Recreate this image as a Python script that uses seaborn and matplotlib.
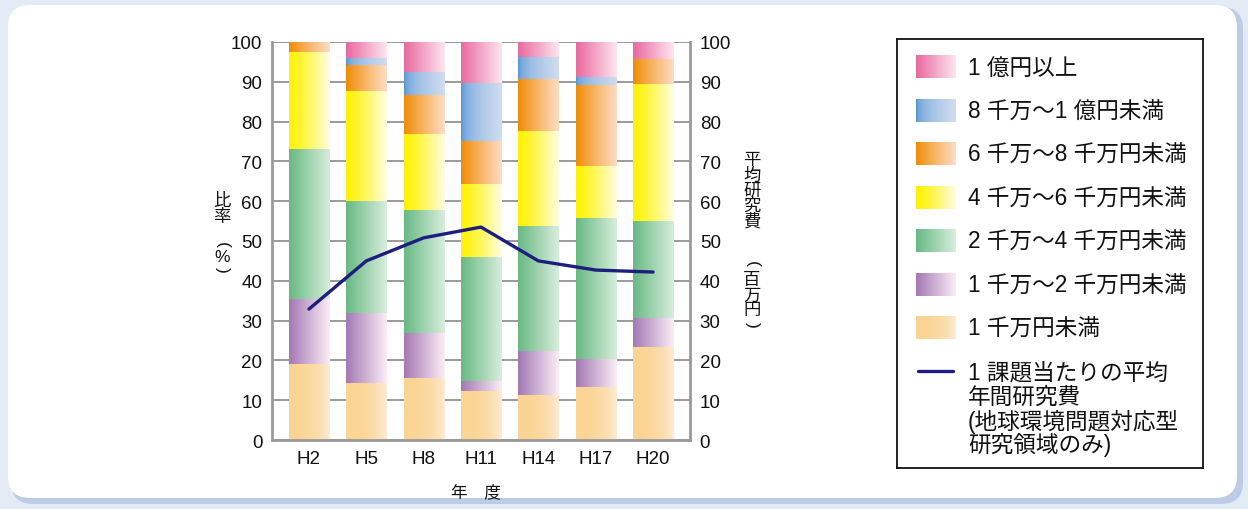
import numpy as np
import matplotlib
matplotlib.use("Agg")
import matplotlib.pyplot as plt
from matplotlib.patches import FancyBboxPatch
from matplotlib.transforms import IdentityTransform
from matplotlib.colors import to_rgb
import seaborn as sns

# ---- data -------------------------------------------------------------
years = ["H2", "H5", "H8", "H11", "H14", "H17", "H20"]

# share of projects by annual research cost band (%), bottom to top
share_under_10m = [19.0, 14.3, 15.6, 12.3, 11.3, 13.3, 23.4]
share_10m_20m   = [16.5, 17.6, 11.3,  2.5, 11.1,  7.1,  7.3]
share_20m_40m   = [37.6, 28.2, 30.9, 31.2, 31.4, 35.4, 24.3]
share_40m_60m   = [24.5, 27.6, 19.1, 18.3, 23.8, 13.0, 34.4]
share_60m_80m   = [ 2.4,  6.6,  9.8, 10.8, 13.1, 20.4,  6.3]
share_80m_100m  = [ 0.0,  1.7,  5.8, 14.6,  5.5,  2.0,  0.0]
share_over_100m = [ 0.0,  4.0,  7.5, 10.3,  3.8,  8.8,  4.3]

# average annual research cost per project (million yen)
avg_cost = [32.9, 45.0, 50.8, 53.5, 45.0, 42.7, 42.2]

band_labels = [
    "1 千万円未満",
    "1 千万～2 千万円未満",
    "2 千万～4 千万円未満",
    "4 千万～6 千万円未満",
    "6 千万～8 千万円未満",
    "8 千万～1 億円未満",
    "1 億円以上",
]
line_label = ["1 課題当たりの平均", "年間研究費", "(地球環境問題対応型", "研究領域のみ)"]

# ---- styling ----------------------------------------------------------
bands = [share_under_10m, share_10m_20m, share_20m_40m, share_40m_60m,
         share_60m_80m, share_80m_100m, share_over_100m]
# (left colour, right colour, fade exponent) for the horizontal gradients
band_grad = [
    ("#fad493", "#fdebd5", 2.5),
    ("#a478b4", "#fbedf6", 1.0),
    ("#68b983", "#d8eedd", 1.0),
    ("#fff200", "#fffde6", 1.2),
    ("#f08a00", "#fdddc6", 0.9),
    ("#4a8fd1", "#d0dcf0", 0.45),
    ("#e8699f", "#fde6f0", 1.0),
]
line_color = "#1e1e7e"
grid_color = "#9a9a9a"
text_color = "#111111"

sns.set_theme(style="white")
plt.rcParams["font.family"] = ["Liberation Sans", "Noto Sans CJK JP"]

W, H = 1248, 510


def fx(px):
    return px / W


def fy(py):
    return 1 - py / H


def gradient(c0, c1, gamma, n=128):
    t = np.linspace(0, 1, n) ** gamma
    a, b = np.array(to_rgb(c0)), np.array(to_rgb(c1))
    return (a[None, :] * (1 - t[:, None]) + b[None, :] * t[:, None])[None, :, :]


fig = plt.figure(figsize=(W / 100, H / 100), dpi=100)
fig.patch.set_facecolor("#e3ebf4")

# rounded white panel with a soft blue rim at the lower right
fig.add_artist(FancyBboxPatch((11, H - 505), 1232, 497,
                              boxstyle="round,pad=0,rounding_size=22",
                              transform=IdentityTransform(),
                              facecolor="#bccbe6", edgecolor="none", zorder=-3))
fig.add_artist(FancyBboxPatch((8, H - 499), 1229, 493,
                              boxstyle="round,pad=0,rounding_size=22",
                              transform=IdentityTransform(),
                              facecolor="white", edgecolor="none", zorder=-2))

ax = fig.add_axes([fx(272), fy(441), fx(690 - 272), (441 - 43) / H])
ax.patch.set_alpha(0)
ax.set_axisbelow(True)

n = len(years)
bottom = np.zeros(n)
for vals, (c0, c1, g) in zip(bands, band_grad):
    start = len(ax.patches)
    sns.barplot(x=years, y=vals, bottom=bottom, order=years, ax=ax,
                width=0.7, color=c0, saturation=1, errorbar=None)
    img = gradient(c0, c1, g)
    for p in ax.patches[start:]:
        h = p.get_height()
        p.set_visible(False)
        if h <= 0:
            continue
        x0, y0, w = p.get_x(), p.get_y(), p.get_width()
        ax.imshow(img, extent=[x0, x0 + w, y0, y0 + h], aspect="auto",
                  interpolation="bilinear", zorder=2)
    bottom += np.asarray(vals)

ax.set_xlim(-0.645, n - 1 + 0.645)
ax.set_ylim(0, 100)
ax.set_yticks(range(0, 101, 10))
ax.grid(axis="y", color=grid_color, lw=1.4)
ax.grid(axis="x", visible=False)
ax.set_xlabel("")
ax.set_ylabel("")
ax.tick_params(axis="both", length=0, labelsize=13.5, colors=text_color)
ax.tick_params(axis="y", pad=7)
ax.tick_params(axis="x", pad=7)
for side in ["top", "right"]:
    ax.spines[side].set_visible(False)
for side in ["left", "bottom"]:
    ax.spines[side].set_color(grid_color)
    ax.spines[side].set_linewidth(2)

# right axis: average cost per project
ax2 = ax.twinx()
sns.lineplot(x=np.arange(n), y=avg_cost, ax=ax2, color=line_color, lw=2.4,
             legend=False, zorder=5)
ax2.set_ylim(0, 100)
ax2.set_yticks(range(0, 101, 10))
ax2.set_ylabel("")
ax2.set_xlabel("")
ax2.tick_params(axis="y", length=0, labelsize=13.5, pad=7, colors=text_color)
for side in ["top", "left", "bottom"]:
    ax2.spines[side].set_visible(False)
ax2.spines["right"].set_color(grid_color)
ax2.spines["right"].set_linewidth(2)
ax.set_xlim(-0.645, n - 1 + 0.645)

# axis titles (vertical writing)
fig.text(fx(476), fy(492), "年　度", ha="center", va="center", fontsize=12, color=text_color)


def vertical(x, ys, chars, size=12.5):
    for y, ch in zip(ys, chars):
        rot = -90 if ch in "()" else 0
        fig.text(fx(x), fy(y), ch, ha="center", va="center", fontsize=size,
                 rotation=rot, rotation_mode="anchor", color=text_color)


vertical(222, [201, 217, 245, 258, 270], ["比", "率", "(", "%", ")"])
vertical(752, [160, 176, 191, 206, 221, 264, 280, 296, 311, 325],
         ["平", "均", "研", "究", "費", "(", "百", "万", "円", ")"])

# legend panel
lax = fig.add_axes([fx(897), fy(469), fx(1203 - 897), (469 - 40) / H])
lax.set_xlim(0, 306)
lax.set_ylim(429, 0)
lax.set_xticks([])
lax.set_yticks([])
lax.set_facecolor("white")
for s in lax.spines.values():
    s.set_color(text_color)
    s.set_linewidth(1.3)

row_y = [28, 72, 115, 159, 202, 246, 289]
for cy, lbl, (c0, c1, g) in zip(row_y, band_labels[::-1], band_grad[::-1]):
    lax.imshow(gradient(c0, c1, g), extent=[19, 59, cy + 11.5, cy - 11.5],
               aspect="auto", interpolation="bilinear")
    lax.text(71, cy, lbl, ha="left", va="center", fontsize=16.3, color=text_color)
lax.plot([21, 56], [332, 332], color=line_color, lw=2.4)
for cy, txt in zip([333, 357, 382, 405], line_label):
    lax.text(71, cy, txt, ha="left", va="center", fontsize=16.3, color=text_color)
lax.set_xlim(0, 306)
lax.set_ylim(429, 0)

fig.savefig("out.png", dpi=100, facecolor=fig.get_facecolor())
